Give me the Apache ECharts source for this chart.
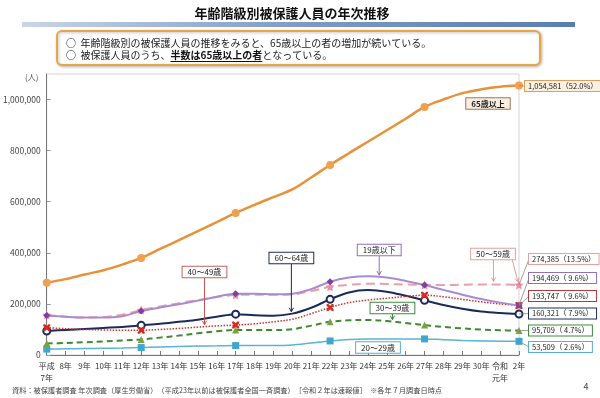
<!DOCTYPE html>
<html><head><meta charset="utf-8">
<script src="https://cdn.jsdelivr.net/npm/echarts@6/dist/echarts.min.js"></script>
<style>html,body{margin:0;padding:0;background:#fff}#c{width:600px;height:398px}</style>
</head><body><div id="c"></div>
<script>
const categories = ['平成\n7年','8年','9年','10年','11年','12年','13年','14年','15年','16年','17年','18年','19年','20年','21年','22年','23年','24年','25年','26年','27年','28年','29年','30年','令和\n元年','2年'];
const yTicks = [0,200000,400000,600000,800000,1000000];
const age65 = [283000,297000,315000,332000,354000,380000,415000,450000,485000,520000,556000,588000,618000,648000,695000,744000,790000,835000,880000,925000,971000,1000000,1025000,1040000,1050000,1054581];
const age19 = [155000,150000,147000,147000,152000,172000,186000,199000,213000,228000,240000,240000,238000,240000,258000,287000,303000,308000,303000,290000,274000,255000,236000,219000,205000,194469];
const age50 = [157000,150000,147000,149000,158000,176000,190000,203000,215000,227000,235000,236000,236000,237000,250000,267000,275000,279000,278000,276000,274000,274000,275000,276000,276000,274385];
const age40 = [107000,103000,100000,98000,97000,97000,100000,104000,109000,114000,117000,122000,130000,140000,162000,186000,205000,215000,222000,229000,234000,228000,218000,208000,200000,193747];
const age60 = [94000,98000,102000,106000,110000,116000,122000,130000,138000,150000,160000,156000,154000,162000,185000,218000,245000,254000,248000,232000,214000,196000,181000,170000,164000,160321];
const age30 = [45000,47000,50000,53000,57000,61000,68000,76000,85000,93000,98000,98000,98000,101000,115000,130000,136000,137000,133000,125000,117000,110000,104000,100000,97000,95709];
const age20 = [23000,24000,25000,26000,27000,29000,31000,33000,35000,36000,37000,37000,37000,39000,47000,55000,61000,63000,63000,63000,63000,60000,57000,55000,54000,53509];
const seriesNames = ['65歳以上','19歳以下','50～59歳','40～49歳','60～64歳','30～39歳','20～29歳'];
const endShares = ['52.0%','9.6%','13.5%','9.6%','7.9%','4.7%','2.6%'];
const markerIdx = [0,5,10,15,20,25];

const FONT = '"Noto Sans CJK JP","Noto Sans CJK SC",sans-serif';
const chart = echarts.init(document.getElementById('c'), null, {renderer:'canvas'});
const STAR = 'path://M0,-10 L2.9,-4 L9.5,-3.1 L4.7,1.5 L5.9,8.1 L0,5 L-5.9,8.1 L-4.7,1.5 L-9.5,-3.1 L-2.9,-4 Z';
const XMARK = 'path://M0,0 L2.5,0 L5,2.5 L7.5,0 L10,0 L10,2.5 L7.5,5 L10,7.5 L10,10 L7.5,10 L5,7.5 L2.5,10 L0,10 L0,7.5 L2.5,5 L0,2.5 Z';

const styles = [
  {data:age65, color:'#E8913A', width:2.5, type:'solid', symbol:'circle', size:8, mcolor:'#F0A050'},
  {data:age19, color:'#A98BD0', width:2, type:'solid', symbol:'diamond', size:7, mcolor:'#7E3F9E'},
  {data:age50, color:'#EBA0A8', width:2, type:[9,5], symbol:STAR, size:9, mcolor:'#EE8EA6'},
  {data:age40, color:'#C8322A', width:1.5, type:'dotted', symbol:XMARK, size:7, mcolor:'#D42A20'},
  {data:age60, color:'#1C2A5A', width:2, type:'solid', symbol:'circle', size:7, mcolor:'#1C2A5A', hollow:true},
  {data:age30, color:'#3F8A2E', width:2, type:[6,4], symbol:'triangle', size:7, mcolor:'#7DA043'},
  {data:age20, color:'#5AB4D2', width:1.5, type:'solid', symbol:'rect', size:7, mcolor:'#3FA6CF'}
];

const series = styles.map((s,i)=>({
  name: seriesNames[i], type:'line', smooth:0.35, showAllSymbol:true,
  data: s.data.map((v,k)=> markerIdx.indexOf(k)>=0
      ? {value:v, symbol:s.symbol, symbolSize:s.size}
      : {value:v, symbol:'none', symbolSize:0}),
  lineStyle:{color:s.color, width:s.width, type:s.type},
  itemStyle: s.hollow ? {color:'#fff', borderColor:s.mcolor, borderWidth:2} : {color:s.mcolor, borderWidth:0},
  z: 10 - i, animation:false
}));

chart.setOption({
  animation:false,
  backgroundColor:'#fff',
  textStyle:{fontFamily:FONT},
  grid:{left:40, right:81, top:74, bottom:43, show:true, borderColor:'#d5d5d5', borderWidth:1},
  xAxis:{type:'category', data:categories, boundaryGap:false,
    axisLine:{lineStyle:{color:'#777'}},
    axisTick:{inside:true, length:4, lineStyle:{color:'#777'}},
    axisLabel:{interval:0, fontSize:8, color:'#333', margin:5, lineHeight:12, fontFamily:FONT}},
  yAxis:{type:'value', min:0, max:1100000, interval:200000,
    axisLine:{show:true, lineStyle:{color:'#777'}},
    axisTick:{show:true, inside:true, length:4, lineStyle:{color:'#999'}},
    splitLine:{show:false},
    axisLabel:{fontSize:8.5, color:'#444', margin:6, showMaxLabel:false,
      formatter:v=> yTicks.indexOf(v)>=0 ? v.toLocaleString('en-US') : ''}},
  series: series
});

function px(si, idx){ return chart.convertToPixel({seriesIndex:si}, [idx, styles[si].data[idx]]); }
function pxFrac(si, f){ const a=Math.floor(f), b=Math.min(a+1, styles[si].data.length-1); const p=px(si,a), q=px(si,b); const t=f-a; return [p[0]+(q[0]-p[0])*t, p[1]+(q[1]-p[1])*t]; }

const g = [];
g.push({type:'rect', shape:{x:22,y:22,width:553,height:5}, style:{fill:new echarts.graphic.LinearGradient(0,0,1,0,[{offset:0,color:'#C9D5E5'},{offset:0.5,color:'#7D9BC4'},{offset:1,color:'#5A7DB0'}])}});
g.push({type:'text', style:{text:'年齢階級別被保護人員の年次推移', x:292, y:13, align:'center', verticalAlign:'middle', font:'bold 13px '+FONT, fill:'#111'}});
g.push({type:'rect', shape:{x:57,y:31,width:483,height:34,r:5}, style:{fill:'#fff', stroke:'#E9A545', lineWidth:2, shadowBlur:3, shadowColor:'rgba(0,0,0,0.25)', shadowOffsetX:1, shadowOffsetY:1}});
g.push({type:'text', style:{text:'○  年齢階級別の被保護人員の推移をみると、65歳以上の者の増加が続いている。', x:66, y:43.5, verticalAlign:'middle', font:'10px '+FONT, fill:'#222'}});
const l2a = '○  被保護人員のうち、', l2b='半数は65歳以上の者', l2c='となっている。';
const ctx = document.createElement('canvas').getContext('2d');
ctx.font = '10px '+FONT; const wa = ctx.measureText(l2a).width;
ctx.font = 'bold 10px '+FONT; const wb = ctx.measureText(l2b).width;
g.push({type:'text', style:{text:l2a, x:66, y:55.5, verticalAlign:'middle', font:'10px '+FONT, fill:'#222'}});
g.push({type:'text', style:{text:l2b, x:66+wa, y:55.5, verticalAlign:'middle', font:'bold 10px '+FONT, fill:'#111'}});
g.push({type:'line', shape:{x1:66+wa, y1:61.5, x2:66+wa+wb, y2:61.5}, style:{stroke:'#111', lineWidth:1}});
g.push({type:'text', style:{text:l2c, x:66+wa+wb, y:55.5, verticalAlign:'middle', font:'10px '+FONT, fill:'#222'}});
g.push({type:'text', style:{text:'(人)', x:25, y:77, verticalAlign:'middle', font:'8px '+FONT, fill:'#555'}});
g.push({type:'text', style:{text:'資料：被保護者調査 年次調査（厚生労働省）　（平成23年以前は被保護者全国一斉調査）　［令和２年は速報値］　※各年７月調査日時点', x:12, y:390, verticalAlign:'middle', font:'7.2px '+FONT, fill:'#444'}});
g.push({type:'text', style:{text:'4', x:586, y:387, align:'center', verticalAlign:'middle', font:'9px '+FONT, fill:'#444'}});

const endBoxes = [
  {si:0, x:525, cy:86, border:'#D9A060', bg:'#FBF0E0'},
  {si:2, x:529, cy:259, border:'#E3A3A0', bg:'#fff'},
  {si:1, x:529, cy:278, border:'#8F72B8', bg:'#fff'},
  {si:3, x:529, cy:296, border:'#B03A3A', bg:'#fff'},
  {si:4, x:529, cy:313.5, border:'#1F2D5A', bg:'#fff'},
  {si:5, x:529, cy:330.5, border:'#3C8A3C', bg:'#fff'},
  {si:6, x:529, cy:347, border:'#5AAFD0', bg:'#fff'}
];
endBoxes.forEach(b=>{
  const d = styles[b.si].data; const last = d.length-1; const p = px(b.si, last);
  const pct = endShares[b.si];
  const txt = d[last].toLocaleString('en-US') + (pct.length<5 ? '（ ' : '（') + pct + '）';
  g.push({type:'line', shape:{x1:p[0], y1:p[1], x2:b.x, y2:b.cy}, style:{stroke:'#888', lineWidth:0.8}, z:50});
  g.push({type:'text', z:60, style:{text:txt, x:b.x, y:b.cy, verticalAlign:'middle', font:'7.5px '+FONT, fill:'#222', backgroundColor:b.bg, borderColor:b.border, borderWidth:1, padding:[1.5,3,1,3]}});
});

function arrow(x, y0, x1, y1, color){
  g.push({type:'line', z:40, shape:{x1:x, y1:y0, x2:x1, y2:y1}, style:{stroke:color, lineWidth:1}});
  const ang = Math.atan2(y1-y0, x1-x); const L=4.5, A=0.5;
  g.push({type:'polyline', z:40, shape:{points:[[x1-L*Math.cos(ang-A), y1-L*Math.sin(ang-A)],[x1,y1],[x1-L*Math.cos(ang+A), y1-L*Math.sin(ang+A)]]}, style:{stroke:color, lineWidth:1, fill:null}});
}
function box(text, cx, cy, border, bold, bg){
  g.push({type:'text', z:60, style:{text:text, x:cx, y:cy, align:'center', verticalAlign:'middle', font:(bold?'bold ':'')+'8px '+FONT, fill:'#222', backgroundColor:bg||'#fff', borderColor:border, borderWidth:1, padding:[1.5,5,1,5]}});
}
box('65歳以上', 488, 103.5, '#A07850', true, '#F8EEE2');
{ const t = pxFrac(3, 8.35); arrow(t[0], 277, t[0], t[1]-2, '#C05050'); box('40～49歳', t[0], 272, '#C06060'); }
{ const t = pxFrac(4, 12.95); arrow(t[0], 263, t[0], t[1]-2, '#1C2A5A'); box('60～64歳', t[0], 258, '#1C2A5A'); }
{ const t = pxFrac(1, 17.6); arrow(t[0], 255, t[0], t[1]-2, '#8F6CC0'); box('19歳以下', t[0], 250, '#8F6CC0'); }
{ const t = pxFrac(2, 23.65); const t2 = px(2, 25); arrow(t[0], 259, t[0], t[1]-3, '#E0A0A0'); arrow(512, 259, t2[0]-1, t2[1]-3, '#E0A0A0'); box('50～59歳', 493, 254, '#E0A0A0'); }
{ const t = pxFrac(5, 18.3); arrow(t[0], 313, t[0], t[1]-2, '#3C8A3C'); box('30～39歳', t[0], 308, '#3C8A3C'); }
box('20～29歳', 378, 347.5, '#5AAFD0');

chart.setOption({graphic:{elements:g}});
</script></body></html>
